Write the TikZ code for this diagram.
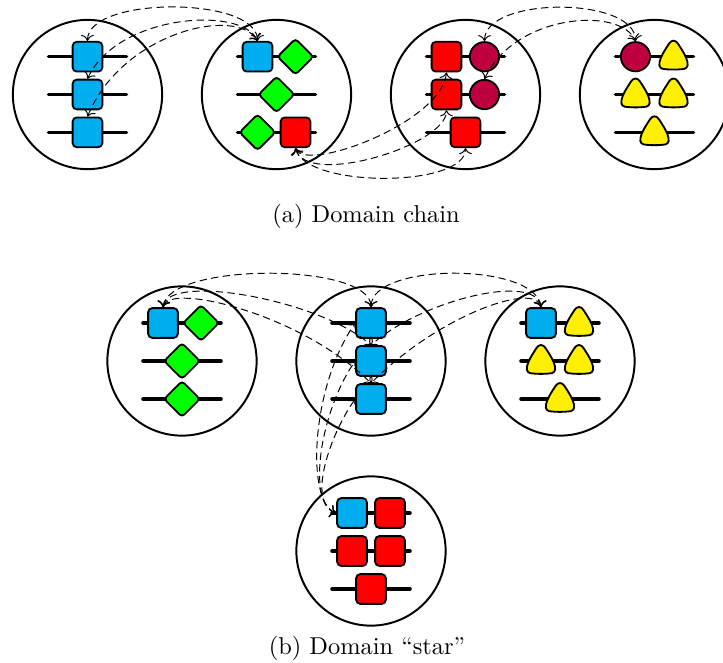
\documentclass[tikz,border=0pt]{standalone}
\usetikzlibrary{shapes.geometric,arrows.meta}
\definecolor{cblue}{RGB}{0,174,239}
\definecolor{cgreen}{RGB}{0,255,0}
\definecolor{cred}{RGB}{255,0,0}
\definecolor{cpurple}{RGB}{191,0,64}
\definecolor{cyellow}{RGB}{255,240,0}
\begin{document}
\begin{tikzpicture}[x=0.41pt,y=-0.41pt,
  dom/.style={circle,draw,line width=0.8pt,minimum size=61.2pt,inner sep=0pt},
  rail/.style={line width=1.45pt,line cap=round},
  sq/.style={rectangle,rounded corners=1.7pt,draw,line width=0.75pt,minimum size=12.2pt,inner sep=0pt},
  bsq/.style={sq,fill=cblue},
  rsq/.style={sq,fill=cred},
  dia/.style={diamond,rounded corners=1.4pt,draw,line width=0.75pt,minimum size=15pt,inner sep=0pt,fill=cgreen},
  ball/.style={circle,draw,line width=0.75pt,minimum size=12pt,inner sep=0pt,fill=cpurple},
  link/.style={dash pattern=on 3pt off 1.8pt,line width=0.4pt,<->},
  tri/.pic={\draw[fill=cyellow,line width=0.75pt] (-4.5,-13) .. controls (-2,-17) and (2,-17) .. (4.5,-13)
     .. controls (9,-6) and (13,0) .. (14,5.5) .. controls (15,10.5) and (12.5,12.5) .. (8,12.5)
     .. controls (3,13) and (-3,13) .. (-8,12.5) .. controls (-12.5,12.5) and (-15,10.5) .. (-14,5.5)
     .. controls (-13,0) and (-9,-6) .. (-4.5,-13) -- cycle;}
]
\useasboundingbox (0,0) rectangle (723,663);

% domains
\node[dom] (A1) at (87.5,94.5) {};
\node[dom] (A2) at (276.5,94.5) {};
\node[dom] (A3) at (465.5,94.5) {};
\node[dom] (A4) at (654.5,94.5) {};
\node[dom] (BL) at (182,361) {};
\node[dom] (BM) at (371,361) {};
\node[dom] (BR) at (560,361) {};
\node[dom] (BB) at (371,551) {};

% rails
\foreach \cx in {87.5,276.5,465.5,654.5}
  \foreach \ry in {56.7,94.5,132.3}
    \draw[rail] (\cx-39,\ry) -- (\cx+39,\ry);
\foreach \cx in {182,371,560}
  \foreach \ry in {323,361,399}
    \draw[rail] (\cx-39,\ry) -- (\cx+39,\ry);
\foreach \ry in {513,551,589}
  \draw[rail] (371-39,\ry) -- (371+39,\ry);

% (a) contents
\node[bsq] (a1) at (87.5,56.7) {};
\node[bsq] (a2) at (87.5,94.5) {};
\node[bsq] (a3) at (87.5,132.3) {};
\node[bsq] (b1) at (257.5,56.7) {};
\node[dia] (b2) at (295.5,56.7) {};
\node[dia] (b3) at (276.5,94.5) {};
\node[dia] (b4) at (257.5,132.3) {};
\node[rsq] (b5) at (295.5,132.3) {};
\node[rsq] (c1) at (446.5,56.7) {};
\node[ball] (c2) at (484.5,56.7) {};
\node[rsq] (c3) at (446.5,94.5) {};
\node[ball] (c4) at (484.5,94.5) {};
\node[rsq] (c5) at (465.5,132.3) {};
\node[ball] (d1) at (635.5,56.7) {};
\pic at (673.5,56.7) {tri};
\pic at (635.5,94.5) {tri};
\pic at (673.5,94.5) {tri};
\pic at (654.5,132.3) {tri};

% (b) contents
\node[bsq] (l1) at (163,323) {};
\node[dia] (l2) at (201,323) {};
\node[dia] (l3) at (182,361) {};
\node[dia] (l4) at (182,399) {};
\node[bsq] (m1) at (371,323) {};
\node[bsq] (m2) at (371,361) {};
\node[bsq] (m3) at (371,399) {};
\node[bsq] (r1) at (541,323) {};
\pic at (579,323) {tri};
\pic at (541,361) {tri};
\pic at (579,361) {tri};
\pic at (560,399) {tri};
\node[bsq] (o1) at (352,513) {};
\node[rsq] (o2) at (390,513) {};
\node[rsq] (o3) at (352,551) {};
\node[rsq] (o4) at (390,551) {};
\node[rsq] (o5) at (371,589) {};

% (a) links
\draw[link] (a1.north) .. controls +(0,-45) and +(0,-45) .. (b1.north);
\draw[link] (a2.north) .. controls +(30,-65) and +(-15,-35) .. (b1.north);
\draw[link] (a3.north) .. controls +(35,-85) and +(-20,-35) .. (b1.north);
\draw[link] (b5.south) .. controls +(10,25) and +(-5,50) .. (c1.south);
\draw[link] (b5.south) .. controls +(10,40) and +(0,35) .. (c3.south);
\draw[link] (b5.south) .. controls +(10,40) and +(0,40) .. (c5.south);
\draw[link] (c2.north) .. controls +(0,-45) and +(0,-45) .. (d1.north);
\draw[link] (c4.north) .. controls +(30,-65) and +(-15,-35) .. (d1.north);

% (b) links
\draw[link] (l1.north) .. controls +(5,-45) and +(0,-45) .. (m1.north);
\draw[link] (l1.north) .. controls +(5,-35) and +(-50,-45) .. (m2.north);
\draw[link] (l1.north) .. controls +(5,-25) and +(-70,-70) .. (m3.north);
\draw[link] (r1.north) .. controls +(-5,-45) and +(0,-45) .. (m1.north);
\draw[link] (r1.north) .. controls +(-5,-35) and +(50,-45) .. (m2.north);
\draw[link] (r1.north) .. controls +(-5,-25) and +(70,-70) .. (m3.north);
\draw[link] (o1.west) .. controls +(-30,-10) and +(-45,65) .. (m1.west);
\draw[link] (o1.west) .. controls +(-30,-10) and +(-35,50) .. (m2.west);
\draw[link] (o1.west) .. controls +(-30,-10) and +(-25,35) .. (m3.west);

% captions
\node (capa) at (366,216) {(a) Domain chain};
\node (capb) at (367,648) {(b) Domain ``star''};
\end{tikzpicture}
\end{document}
